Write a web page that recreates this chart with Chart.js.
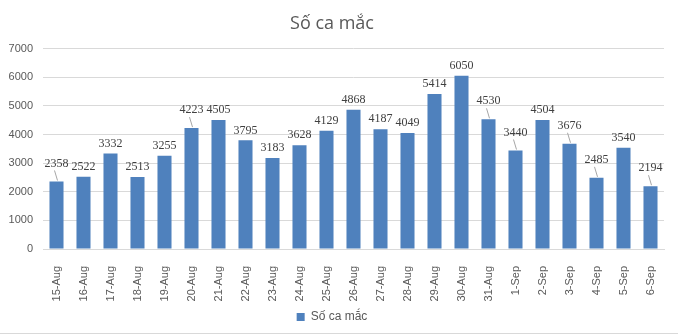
<!DOCTYPE html>
<html>
<head>
<meta charset="utf-8">
<script src="https://cdn.jsdelivr.net/npm/chart.js@4.4.1/dist/chart.umd.min.js"></script>
<style>
  html, body { margin: 0; padding: 0; background: #fff; }
  #wrap { width: 678px; height: 336px; position: relative; }
</style>
</head>
<body>
<div id="wrap"><canvas id="casesChart"></canvas></div>
<script>
// ---- data ----
const days = [
  "15-Aug", "16-Aug", "17-Aug", "18-Aug", "19-Aug", "20-Aug", "21-Aug", "22-Aug",
  "23-Aug", "24-Aug", "25-Aug", "26-Aug", "27-Aug", "28-Aug", "29-Aug", "30-Aug",
  "31-Aug", "1-Sep", "2-Sep", "3-Sep", "4-Sep", "5-Sep", "6-Sep"
];
const cases = [
  2358, 2522, 3332, 2513, 3255, 4223, 4505, 3795,
  3183, 3628, 4129, 4868, 4187, 4049, 5414, 6050,
  4530, 3440, 4504, 3676, 2485, 3540, 2194
];
// days whose value label sits higher with a leader line
const calloutDays = ["15-Aug", "20-Aug", "31-Aug", "1-Sep", "3-Sep", "4-Sep", "6-Sep"];
const yTicks = [0, 1000, 2000, 3000, 4000, 5000, 6000, 7000];

const BAR_BLUE = "#4f81bd";
const TEXT_GRAY = "#595959";

// value labels above the bars, some pushed up with a thin leader line
const valueLabelPlugin = {
  id: "valueLabel",
  afterDatasetsDraw(chart) {
    const { ctx, data } = chart;
    const meta = chart.getDatasetMeta(0);
    ctx.save();
    ctx.font = "12px 'Liberation Serif', serif";
    ctx.fillStyle = "#404040";
    ctx.textAlign = "center";
    ctx.textBaseline = "middle";
    meta.data.forEach((bar, idx) => {
      const value = data.datasets[0].data[idx];
      const callout = calloutDays.includes(data.labels[idx]);
      const lift = callout ? 18 : 10;
      const ly = bar.y - lift;
      ctx.fillText(String(value), bar.x, ly);
      if (callout) {
        ctx.strokeStyle = "#a6a6a6";
        ctx.lineWidth = 1;
        ctx.beginPath();
        ctx.moveTo(bar.x - 2, ly + 7);
        ctx.lineTo(bar.x + 1, bar.y - 1);
        ctx.stroke();
      }
    });
    ctx.restore();
  },
  afterDraw(chart) {
    // thin frame line along the bottom
    const { ctx, width } = chart;
    ctx.save();
    ctx.strokeStyle = "#d9d9d9";
    ctx.lineWidth = 1;
    ctx.beginPath();
    ctx.moveTo(0, 333.5);
    ctx.lineTo(width, 333.5);
    ctx.stroke();
    ctx.restore();
  }
};

const ctx = document.getElementById("casesChart").getContext("2d");
new Chart(ctx, {
  type: "bar",
  data: {
    labels: days,
    datasets: [{
      label: "Số ca mắc",
      data: cases,
      backgroundColor: BAR_BLUE,
      borderWidth: 0,
      categoryPercentage: 1,
      barPercentage: 0.52
    }]
  },
  options: {
    responsive: true,
    maintainAspectRatio: false,
    animation: false,
    layout: { padding: { left: 0, right: 14, top: 13, bottom: 3 } },
    plugins: {
      title: {
        display: true,
        text: "Số ca mắc",
        color: TEXT_GRAY,
        font: { family: "'Open Sans', sans-serif", size: 18, weight: "normal" },
        padding: { top: 0, bottom: 14 }
      },
      legend: {
        position: "bottom",
        labels: {
          color: TEXT_GRAY,
          font: { family: "'Liberation Sans Narrow', 'Liberation Sans', sans-serif", size: 12 },
          boxWidth: 8,
          boxHeight: 8,
          padding: 6
        }
      },
      tooltip: { enabled: false }
    },
    scales: {
      x: {
        grid: { display: false },
        border: { color: "#d9d9d9" },
        afterFit(axis) {
          axis.height = 56;
        },
        ticks: {
          color: TEXT_GRAY,
          font: { family: "'Liberation Sans', sans-serif", size: 11 },
          minRotation: 90,
          maxRotation: 90,
          autoSkip: false,
          padding: 9
        }
      },
      y: {
        min: 0,
        max: 7000,
        afterBuildTicks(axis) {
          axis.ticks = yTicks.map(v => ({ value: v }));
        },
        afterFit(axis) {
          axis.width = 43;
        },
        grid: { color: "#d9d9d9", drawTicks: false },
        border: { display: false },
        ticks: {
          color: TEXT_GRAY,
          font: { family: "'Liberation Sans', sans-serif", size: 11 },
          padding: 10,
          callback: v => String(v)
        }
      }
    }
  },
  plugins: [valueLabelPlugin]
});
</script>
</body>
</html>
